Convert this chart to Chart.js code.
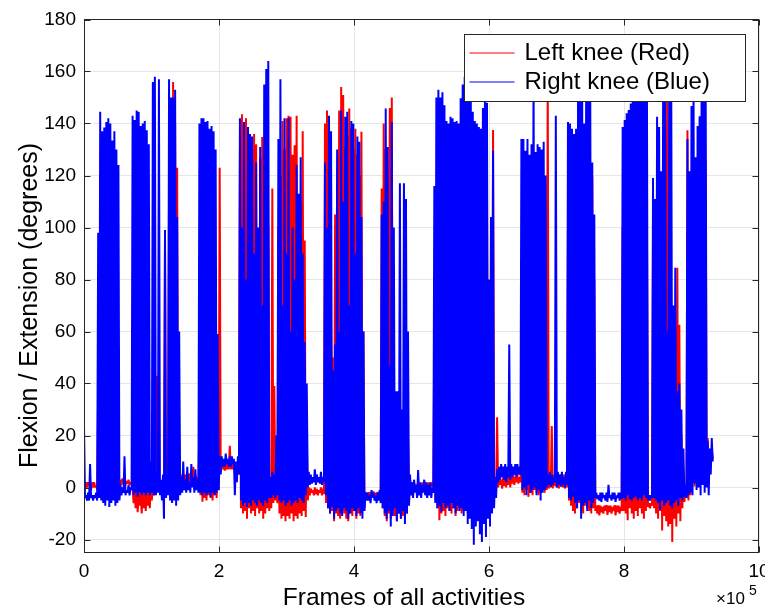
<!DOCTYPE html>
<html>
<head>
<meta charset="utf-8">
<script src="https://cdn.jsdelivr.net/npm/chart.js@4"></script>
<style>
html,body{margin:0;padding:0;background:#ffffff;}
canvas{display:block;}
</style>
</head>
<body>
<canvas id="c" width="765" height="608"></canvas>
<script>
// ---- data (per sample column: upper / lower extreme) ----
const frameStep = 3000; // frames per sample column
const seriesLabels = ['Left knee (Red)', 'Right knee (Blue)'];
const seriesColors = ['#ff0000', '#0000ff'];
const xTitle = 'Frames of all activities';
const yTitle = 'Flexion / Extension (degrees)';
const xTickValues = [0, 200000, 400000, 600000, 800000, 1000000];
const xTickLabels = ['0', '2', '4', '6', '8', '10'];
const yTickValues = [-20, 0, 20, 40, 60, 80, 100, 120, 140, 160, 180];

const rightHi = [
24, -3, -2, 9, -3, -3, -2, 98, 144.5, 137,
138.5, 140.6, 142, 140, 133.5, 137, 130, 124, 1, 0,
12, -1, 1, 0, 143, 141.3, 145, 144.5, 139, 140,
141, 137.4, 132, 10, 156, 158, 5, 157, 3, 5,
99, 5, 157, 150, 150, 153, 104, 60, 4, 10,
3, 8, 2, 9, 4, 7, 3, 140, 142, 142,
140.6, 141, 138, 139, 137, 130, 59, 12, 12, 11,
13, 11, 12, 12, 11, 10, 12, 142, 100, 140.6,
80, 138.7, 136, 135, 90, 125, 100, 131, 70, 155,
161, 164, 4, 6, 5, 20, 134, 157, 70, 142,
90, 142, 60, 100, 80, 124, 113, 127, 90, 56,
40, 6, 5, 4, 7, 5, 4, 6, 4, 125,
100, 143, 137, 45, 55, 130, 60, 145, 110, 142.6,
144.5, 70, 141, 140, 90, 135, 133, 104, 60, -2,
-2, -3, -1, -2, -3, -2, -1, 105, 110, 145.8,
131, 47, 140.6, 100, 37, 37, 117, 30, 117, 111,
60, 5, 2, 3, 1, 6.7, 2, 1, 3, 2,
1, 2, 0, 116, 150, 153, 150, 152, 147, 141,
140, 142.6, 142, 140.6, 141, 140, 149.7, 155, 158, 156,
160, 152, 144.5, 141, 140, 138.7, 138, 146, 150, 148,
80, 104, 129.5, 4, 7, 8, 9, 8, 9, 8,
55, 9, 8, 9, 9, 8, 134, 134, 129.5, 134,
128, 132, 160, 129, 132, 131, 130, 133, 120, 5,
6, 5, 4, 143, 6, 5, 6, 4, 6, 140.6,
140, 138, 136, 138, 158, 150, 155, 140, 160, 158,
152, 125, 105, -2, -3, -2, -2, -3, -2, 1,
-3, -2, -2, -3, -2, -2, 138.7, 141.3, 143.9, 145.2,
147.7, 152, 158, 162, 165, 163, 160, 156, 150, -3,
-3, 119, 111, 142.6, 138.7, 121.6, 155, 160, 60, 158,
156, 70, 84.5, 37, 40, 30, 15, 1, 134, 121.6,
146.7, 155, 127, 139, 142.8, 160, 158, 155, 18, 15,
19
];
const rightLo = [
-4, -5, -5, -4, -5, -4, -5, -4, -5, -6,
-7, -5, -7.5, -6, -5, -7, -6, -5, -3, -2,
-3, -2, -3, -1, -3, -2, -3.6, -2, -3, -2,
-3, -2, -3, -2, -3, -3, -2, -3, -5, -12,
-4, -3, -5, -6, -5, -7, -5, -3, -2, -1,
-2, -1, -2, 0, -2, -1, -2, -2, -3, -2,
-3, -2, -3.6, -2, -3, -2, -1, 5, 8, 8,
9, 8, 8, 9, -3, 2, 5, -5, -7, -6,
-7.5, -6, -7, -5, -6, -7, -5, -6, -7, -5,
-6, -4, -4, -3, -4, -3, -5, -6, -5, -7,
-6, -5, -7, -6, -5, -6, -4, -5, -6, -3,
0, 1, 1.5, 2, 1, 2, 1.5, 1, 2, -3,
-8, -10, -7.5, -12, -9, -8, -10, -11, -8, -9,
-12, -10, -8, -9, -11, -8, -10, -12, -9, -5,
-5, -6, -4, -5, -6, -5, -6, -8, -10, -12,
-9, -15, -11, -8, -13, -10, -12, -9, -14, -10,
-7, -3, -4, -2, -4, -3, -4, -2, -3, -4,
-3, -4, -2, -6, -8, -7, -9.4, -6, -8, -7,
-9, -6, -8, -10, -7, -9, -8, -11, -9, -14,
-12, -16, -22, -15, -13, -18, -21, -14, -19, -12,
-15, -10, -8, -4, 2, 3, 4, 3, 2, 4,
3, 4, 5, 4, 5, 5, -1, 0, -3, 1,
-2, -1, 0, -3, -1, -5, -2, -1, 0, 1,
0.3, 1, 2, 0, 1, 0.3, 1, 0, 1, -4,
-5, -3.6, -6, -8, -5, -12, -7, -6, -9, -5,
-8, -6, -4, -4.5, -5, -5.5, -4, -5, -5.5, -4,
-5, -4.5, -5.5, -4, -5, -4.5, -4, -5, -3, -4.5,
-5, -4, -3.6, -5, -4, -5, -3, -4, -5, -5,
-4, -4, -5, -6, -8.7, -5, -7, -6, -5, -7,
-8, -6, -5, -7, -4, -5, -3.6, -4, -3, -2,
-3, 1.5, -1, 0, -3, 1, -2, 0, -3, 5,
10
];
const leftHi = [
2, 2, 2, 1, 2, 2, 1, 38, 3, 2,
3, 2, 3, 2, 3, 2, 3, 2, 3, 3.5,
3, 2.5, 3, 2, 0, -1, 0, -2, -1, 0,
-1, 0, -2, 2, 3, 2, 43, 1, 2, 3,
95, 3, 116, 130, 156, 140, 123, 20, 5, 4,
5, 4, 5.4, 4, 8, 5, 4, 26, 20, 15,
10, 18, 12, 15, 10, 12, 8, 123, 10, 10,
9, 10, 16, 10, 9, 9, 10, 130, 143.6, 135,
142, 132, 128, 130, 136, 132, 95, 127, 134.8, 120,
110, 100, 2, 115, 39, 3, 100, 120, 141, 130,
142, 143, 142.6, 128, 131.6, 143, 100, 110, 137, 95,
20, 0, -0.4, -1, 0, -0.5, -1, 0, -0.4, 140,
145, 130, 60, 50, 105, 80, 145, 154, 151, 130,
135, 145.8, 138, 130, 138, 128, 120, 136.8, 60, -1.7,
-2, -1.7, -2, -1.5, -2, -1.7, -2, 115, 140, 130,
60, 146, 150, 40, 25, 30, 25, 20, 25, 30,
20, 3, 2, 2.2, 1, 2, 1.5, 2, 2.2, 1,
2, 1, 2, 60, 100, 120, 110, 100, 120, 110,
100, 90, 110, 120, 100, 110, 120, 100, 110, 120,
100, 110, 90, 100, 110, 100, 90, 100, 110, 120,
60, 80, 137.5, 2, 27, 4, 3, 4, 5, 4,
4, 5, 5.4, 4, 5, 4, 20, 25, 27.5, 20,
25, 20, 30, 25, 30, 20, 25, 20, 15, 160,
4, 23.6, 5, 5.4, 4, 5, 4, 5, 4, 100,
110, 120, 100, 110, 120, 158, 137, 139, 120, 110,
100, 119.6, 80, -7, -6.8, -7, -7.5, -7, -6.8, -7,
-7, -7.5, -6.8, -7, -7, -7.5, 100, 110, 120, 110,
120, 130, 120, 110, 120, 130, 110, 120, 100, -6,
-6, 100, 90, 100, 110, 48.7, 120, 130, 162, 70,
60, 65, 60, 84.5, 62.6, 20, 5, -1, 137.4, 100,
110, 120, 110, 120, 125, 130, 120, 125.6, 19, 12,
15
];
const leftLo = [
0, 0, 1, -1, 0, 0, -1, 0, 1, 0,
1, 0.5, 1, 0, 1, 0.5, 1, 1, 1, 1.5,
1, 1.5, 1, 1.5, -6, -8, -9.5, -7, -10, -8,
-9, -7, -8, -5, -3, -2, 0, -1, 0, 1,
-2, 0, -4, -5.5, -4, -5, -3, 1, 1.5, 2,
1.5, 2, 1.5, 2, 1.5, 2, 1.5, -3, -5.5, -4,
-5, -3, -4, -5, -3, -4, -1, 6, 7, 6.5,
7, 7, 7, 7, 6, 6, 5, -8, -10, -9,
-12, -8, -10, -9, -11, -8, -10, -9, -12, -10,
-8, -9, -8, -6, -5, -6, -10, -12, -11, -13,
-11, -12, -10, -13, -11, -12, -10, -11, -9, -11.3,
-5, -3, -2, -3, -2.5, -3, -2, -3, -2.5, -6,
-8, -10, -9, -13, -10, -11, -12, -9, -10, -12,
-13, -10, -11, -9, -12, -10, -11, -9, -8, -4,
-3.5, -4.2, -3, -4, -3.5, -4, -3, -8, -11, -13,
-10, -12, -9, -11, -13, -10, -12, -11, -9, -10,
-6, -0.4, 0, -0.4, 0.5, 0, -0.4, 0.5, 0, -0.4,
0, 0.5, 0, -5, -8, -12.6, -10, -9, -11, -8,
-9, -10, -8, -11, -9, -8, -10, -9, -8, -10,
-9, -11, -10, -8, -12, -9, -10, -11, -8, -9,
-6, -4, -3, -0.4, 0, 1, -0.4, 0.5, 0, 1,
0, 1.5, 1, 2, 1.5, 2, -2, -3, -1, -3.6,
-2, -3, -1, -2, -3, -2, -1, -2, -1, -0.4,
0, -0.4, 0.5, 0, -0.4, 0.5, 0, -0.4, 0, -5,
-7, -9, -10, -8, -6, -9, -10, -7, -8, -9,
-10, -8, -9, -10, -10.7, -9.5, -10, -9, -10.5, -9.5,
-10, -9, -10.7, -9.5, -10, -9, -9, -10, -12.6, -8,
-10, -12, -9, -11, -8, -10, -12, -9, -7.5, -8,
-7, -8, -10, -12, -9, -16.5, -11, -13, -15, -14,
-21, -12, -15, -10, -13, -8, -5.5, -4, -5, -3,
2, 0.4, 3, 1, 5, 2, 3, 1, 10, 10,
11
];

// each sample column contributes its upper then its lower reading
function columnsToPoints(hi, lo) {
  const pts = [];
  for (let i = 0; i < hi.length; i++) {
    pts.push({ x: i * frameStep, y: hi[i] });
    pts.push({ x: i * frameStep + frameStep / 2, y: lo[i] });
  }
  return pts;
}

const FONT = "'Liberation Sans', Arial, Helvetica, sans-serif";
const AXIS_COLOR = '#262626';

const framePlugin = {
  id: 'matlabFrame',
  afterDatasetsDraw(chart) {
    const { ctx, chartArea, scales } = chart;
    const L = Math.floor(chartArea.left) + 0.5;
    const R = Math.floor(chartArea.right) - 0.5;
    const T = Math.floor(chartArea.top) + 0.5;
    const B = Math.floor(chartArea.bottom) + 0.5;
    const tick = 6;
    ctx.save();
    ctx.strokeStyle = AXIS_COLOR;
    ctx.lineWidth = 1;
    ctx.beginPath();
    scales.x.ticks.forEach(t => {
      const px = Math.round(scales.x.getPixelForValue(t.value)) + 0.5;
      ctx.moveTo(px, B); ctx.lineTo(px, B - tick);
      ctx.moveTo(px, T); ctx.lineTo(px, T + tick);
    });
    scales.y.ticks.forEach(t => {
      const py = Math.round(scales.y.getPixelForValue(t.value)) + 0.5;
      ctx.moveTo(L, py); ctx.lineTo(L + tick, py);
      ctx.moveTo(R, py); ctx.lineTo(R - tick, py);
    });
    ctx.stroke();
    ctx.strokeRect(L, T, R - L, B - T);

    // legend box (drawn over the data, like the original)
    const lw = 281, lh = 67;
    const lx = Math.round(R - 14 - lw) + 0.5;
    const ly = Math.round(T + 14) + 0.5;
    ctx.fillStyle = '#ffffff';
    ctx.fillRect(lx, ly, lw, lh);
    ctx.strokeStyle = AXIS_COLOR;
    ctx.lineWidth = 1;
    ctx.strokeRect(lx, ly, lw, lh);
    const rows = [ly + 18.5, ly + 47.5];
    seriesLabels.forEach((label, k) => {
      ctx.strokeStyle = seriesColors[k];
      ctx.lineWidth = 1.2;
      ctx.beginPath();
      ctx.moveTo(lx + 5, Math.round(rows[k]));
      ctx.lineTo(lx + 50, Math.round(rows[k]));
      ctx.stroke();
      ctx.fillStyle = '#000000';
      ctx.font = '24px ' + FONT;
      ctx.textAlign = 'left';
      ctx.textBaseline = 'middle';
      ctx.fillText(label, lx + 60, rows[k]);
    });
    ctx.restore();
  },
  afterDraw(chart) {
    const { ctx, chartArea } = chart;
    ctx.save();
    ctx.fillStyle = '#000000';
    // axis titles
    ctx.textAlign = 'center';
    ctx.textBaseline = 'alphabetic';
    ctx.font = '24.5px ' + FONT;
    ctx.fillText(xTitle, chartArea.left + 320, 605);
    ctx.save();
    ctx.translate(30, chartArea.top + 286);
    ctx.rotate(-Math.PI / 2);
    ctx.textBaseline = 'middle';
    ctx.font = '25px ' + FONT;
    ctx.fillText(yTitle, 0, 0);
    ctx.restore();
    // exponent label
    ctx.textAlign = 'left';
    ctx.textBaseline = 'alphabetic';
    ctx.font = '17px ' + FONT;
    ctx.fillText('\u00d710', chartArea.right - 43, 604);
    ctx.font = '14px ' + FONT;
    ctx.fillText('5', chartArea.right - 10, 595);
    ctx.restore();
  }
};

new Chart(document.getElementById('c'), {
  type: 'line',
  data: {
    datasets: [
      { label: seriesLabels[0], data: columnsToPoints(leftHi, leftLo), borderColor: seriesColors[0], order: 1 },
      { label: seriesLabels[1], data: columnsToPoints(rightHi, rightLo), borderColor: seriesColors[1], order: 0 }
    ]
  },
  options: {
    responsive: false,
    animation: false,
    devicePixelRatio: 1,
    parsing: false,
    normalized: true,
    layout: { padding: { top: 19.5, right: 6, bottom: 0, left: 0 } },
    elements: {
      point: { radius: 0, hoverRadius: 0 },
      line: { borderWidth: 2, tension: 0, fill: false, borderJoinStyle: 'bevel' }
    },
    plugins: { legend: { display: false }, tooltip: { enabled: false } },
    events: [],
    scales: {
      x: {
        type: 'linear', min: 0, max: 1000000,
        afterBuildTicks: s => { s.ticks = xTickValues.map(v => ({ value: v })); },
        afterFit: s => { s.height = 55.5; s.paddingLeft = 0; s.paddingRight = 0; },
        ticks: {
          callback: (v, i) => xTickLabels[i],
          font: { family: FONT, size: 19 }, color: '#000000',
          padding: 8, maxRotation: 0, autoSkip: false
        },
        grid: { color: '#e6e6e6', lineWidth: 1, drawTicks: false },
        border: { display: false },
        title: { display: false, text: xTitle }
      },
      y: {
        type: 'linear', min: -25, max: 180,
        afterBuildTicks: s => { s.ticks = yTickValues.map(v => ({ value: v })); },
        afterFit: s => { s.width = 84; s.paddingTop = 0; s.paddingBottom = 0; },
        ticks: {
          callback: v => String(v),
          font: { family: FONT, size: 19 }, color: '#000000', padding: 8
        },
        grid: { color: '#e6e6e6', lineWidth: 1, drawTicks: false },
        border: { display: false },
        title: { display: false, text: yTitle }
      }
    }
  },
  plugins: [framePlugin]
});
</script>
</body>
</html>
